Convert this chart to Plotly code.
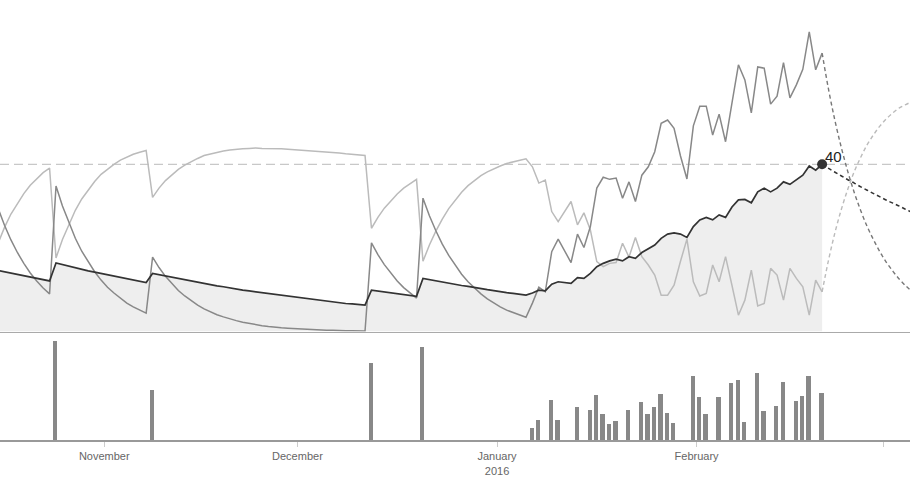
import pandas as pd
import plotly.graph_objects as go

# ---------------- data ----------------
start_date = "2015-10-15"

fitness = [14.6, 14.3, 14.0, 13.6, 13.3, 13.0, 12.7, 12.4, 12.1, 16.4,
           16.0, 15.6, 15.3, 14.9, 14.5, 14.2, 13.9, 13.5, 13.2, 12.9,
           12.6, 12.3, 12.0, 11.7, 13.9, 13.6, 13.3, 12.9, 12.6, 12.3,
           12.0, 11.7, 11.5, 11.2, 10.9, 10.7, 10.4, 10.2, 9.9, 9.7,
           9.5, 9.2, 9.0, 8.8, 8.6, 8.4, 8.2, 8.0, 7.8, 7.6,
           7.4, 7.2, 7.1, 6.9, 6.7, 6.6, 6.4, 6.3, 9.9, 9.7,
           9.5, 9.2, 9.0, 8.8, 8.6, 8.4, 12.7, 12.4, 12.1, 11.8,
           11.6, 11.3, 11.0, 10.8, 10.5, 10.3, 10.0, 9.8, 9.5, 9.3,
           9.1, 8.9, 8.7, 9.2, 9.9, 9.7, 11.3, 11.9, 11.7, 11.5,
           12.9, 12.7, 13.9, 15.5, 16.3, 16.9, 17.3, 16.9, 17.9, 17.5,
           18.9, 19.7, 20.7, 22.3, 23.3, 23.6, 23.3, 22.5, 25.1, 26.7,
           27.3, 26.7, 27.9, 27.3, 29.8, 31.5, 31.6, 30.8, 33.4, 34.3,
           33.4, 34.3, 35.8, 35.2, 36.2, 37.4, 39.6, 38.6, 40.0]

fatigue = [29.5, 25.4, 21.9, 18.9, 16.3, 14.0, 12.1, 10.4, 9.0, 34.8,
           30.0, 25.9, 22.3, 19.2, 16.6, 14.3, 12.3, 10.6, 9.2, 7.9,
           6.8, 5.9, 5.1, 4.4, 17.8, 15.3, 13.2, 11.4, 9.8, 8.5,
           7.3, 6.3, 5.4, 4.7, 4.0, 3.5, 3.0, 2.6, 2.2, 1.9,
           1.6, 1.4, 1.2, 1.0, 0.9, 0.8, 0.7, 0.6, 0.5, 0.4,
           0.4, 0.3, 0.3, 0.2, 0.2, 0.2, 0.2, 0.1, 21.2, 18.4,
           16.0, 13.9, 12.1, 10.5, 9.2, 8.0, 31.9, 27.7, 24.1, 20.9,
           18.2, 15.8, 13.7, 11.9, 10.4, 9.0, 7.8, 6.8, 5.9, 5.1,
           4.5, 3.9, 3.4, 6.8, 10.6, 9.5, 19.1, 22.1, 19.2, 16.5,
           23.3, 20.1, 25.1, 34.3, 36.9, 36.4, 36.7, 31.9, 35.8, 31.1,
           37.4, 39.4, 43.0, 49.8, 50.6, 48.6, 42.0, 36.5, 49.2, 53.9,
           53.9, 47.0, 52.0, 45.4, 54.7, 63.8, 60.2, 52.3, 63.3, 63.0,
           54.4, 56.3, 64.3, 55.9, 59.0, 62.7, 71.7, 62.6, 66.6]

form = [21.1, 24.9, 28.1, 30.7, 33.0, 35.0, 36.6, 38.0, 39.1, 17.6,
        22.0, 25.7, 29.0, 31.7, 33.9, 35.9, 37.6, 38.9, 40.0, 41.0,
        41.8, 42.4, 42.9, 43.3, 32.1, 34.3, 36.1, 37.5, 38.8, 39.8,
        40.7, 41.4, 42.1, 42.5, 42.9, 43.2, 43.4, 43.6, 43.7, 43.8,
        43.9, 43.8, 43.8, 43.7, 43.7, 43.6, 43.5, 43.4, 43.3, 43.2,
        43.0, 42.9, 42.8, 42.7, 42.5, 42.4, 42.3, 42.1, 24.7, 27.3,
        29.5, 31.3, 32.9, 34.3, 35.4, 36.4, 16.8, 20.7, 24.0, 26.9,
        29.4, 31.5, 33.3, 34.9, 36.1, 37.3, 38.2, 39.0, 39.6, 40.2,
        40.6, 41.0, 41.3, 39.4, 35.5, 36.2, 28.7, 26.3, 28.8, 31.1,
        25.5, 28.4, 24.3, 16.7, 15.5, 16.3, 16.5, 21.1, 17.8, 22.5,
        17.9, 15.9, 13.5, 8.7, 8.7, 11.1, 16.8, 22.1, 11.9, 8.5,
        9.1, 15.9, 11.9, 17.9, 11.0, 3.9, 7.5, 14.7, 6.1, 6.7,
        15.1, 13.5, 7.5, 15.1, 12.7, 10.7, 3.9, 12.3, 9.5]

proj_start = "2016-02-20"
fitness_proj = [40.0, 39.0, 38.1, 37.2, 36.3, 35.5, 34.6, 33.8, 33.0, 32.2, 31.4, 30.7, 30.0, 29.2, 28.5]
fatigue_proj = [66.6, 57.9, 50.4, 43.9, 38.2, 33.2, 28.9, 25.1, 21.9, 19.0, 16.5, 14.4, 12.5, 10.9, 9.5]
form_proj = [9.5, 17.1, 23.7, 29.3, 34.1, 38.3, 41.7, 44.7, 47.1, 49.2, 50.9, 52.3, 53.5, 54.3, 55.0]

workout_dates = ["2015-10-24", "2015-11-08", "2015-12-12", "2015-12-20",
                 "2016-01-06", "2016-01-07", "2016-01-09", "2016-01-10", "2016-01-13",
                 "2016-01-15", "2016-01-16", "2016-01-17", "2016-01-18", "2016-01-19",
                 "2016-01-21", "2016-01-23", "2016-01-24", "2016-01-25", "2016-01-26",
                 "2016-01-27", "2016-01-28", "2016-01-31", "2016-02-01", "2016-02-02",
                 "2016-02-04", "2016-02-06", "2016-02-07", "2016-02-08", "2016-02-10",
                 "2016-02-11", "2016-02-13", "2016-02-14", "2016-02-16", "2016-02-17",
                 "2016-02-18", "2016-02-20"]
workout_load = [199, 101, 155, 187,
                25, 41, 81, 41, 67,
                61, 91, 53, 33, 39,
                61, 77, 53, 67, 93,
                55, 35, 129, 87, 53,
                87, 115, 121, 37, 135,
                59, 69, 117, 79, 89,
                129, 95]

tick_dates = ["2015-11-01", "2015-12-01", "2016-01-01", "2016-02-01", "2016-03-01"]
tick_labels = ["November", "December", "January<br>2016", "February", ""]
target_level = 40
current_label = "40"

x_range = ["2015-10-15 19:12", "2016-03-05 03:36"]

# ---------------- build ----------------
DAY_MS = 86400000
days = pd.date_range(start_date, periods=len(fitness), freq="D") + pd.Timedelta(hours=12)
proj_days = pd.date_range(proj_start, periods=len(fitness_proj), freq="D") + pd.Timedelta(hours=12)

DARK = "#333333"
MID = "#888888"
LIGHT = "#bbbbbb"

fig = go.Figure()

# bars (bottom panel)
fig.add_trace(go.Bar(
    x=pd.to_datetime(workout_dates), y=workout_load, xaxis="x", yaxis="y",
    marker=dict(color="#888888", line=dict(width=0)),
    width=DAY_MS * 0.66, offset=DAY_MS * 0.06, hoverinfo="skip"))

# fitness area fill
fig.add_trace(go.Scatter(
    x=days, y=fitness, xaxis="x2", yaxis="y2", mode="lines",
    line=dict(width=0, color="#eeeeee"), fill="tozeroy", fillcolor="#eeeeee",
    hoverinfo="skip"))

# projections
fig.add_trace(go.Scatter(x=proj_days, y=form_proj, xaxis="x2", yaxis="y2", mode="lines",
                         line=dict(color=LIGHT, width=1.4, dash="4px,3px", shape="spline")))
fig.add_trace(go.Scatter(x=proj_days, y=fatigue_proj, xaxis="x2", yaxis="y2", mode="lines",
                         line=dict(color="#777777", width=1.4, dash="4px,3px", shape="spline")))
fig.add_trace(go.Scatter(x=proj_days, y=fitness_proj, xaxis="x2", yaxis="y2", mode="lines",
                         line=dict(color=DARK, width=1.5, dash="4px,3px", shape="spline")))

# main lines
fig.add_trace(go.Scatter(x=days, y=form, xaxis="x2", yaxis="y2", mode="lines",
                         line=dict(color=LIGHT, width=1.5)))
fig.add_trace(go.Scatter(x=days, y=fatigue, xaxis="x2", yaxis="y2", mode="lines",
                         line=dict(color=MID, width=1.5)))
fig.add_trace(go.Scatter(x=days, y=fitness, xaxis="x2", yaxis="y2", mode="lines",
                         line=dict(color=DARK, width=1.7)))

# current point
fig.add_trace(go.Scatter(x=[days[-1]], y=[fitness[-1]], xaxis="x2", yaxis="y2", mode="markers",
                         marker=dict(color=DARK, size=10)))

fig.add_annotation(x=days[-1], y=fitness[-1], xref="x2", yref="y2", text=current_label,
                   showarrow=False, xanchor="left", yanchor="bottom", xshift=1, yshift=-3,
                   font=dict(size=15, color="#222222"))

fig.add_shape(type="line", xref="paper", yref="y2", x0=0, x1=1,
              y0=target_level, y1=target_level, layer="below",
              line=dict(color="#bbbbbb", width=1, dash="9px,5px"))

top_bottom = (440 - 331.5) / 440
fig.update_layout(
    width=910, height=479, autosize=False,
    margin=dict(l=0, r=0, t=0, b=39, pad=0, autoexpand=False),
    paper_bgcolor="white", plot_bgcolor="white",
    showlegend=False,
    font=dict(family="Liberation Sans, Arial, sans-serif"),
    bargap=0,
    xaxis=dict(domain=[0, 1], anchor="y", type="date", range=x_range, automargin=False,
               tickmode="array", tickvals=tick_dates, ticktext=tick_labels,
               ticks="outside", ticklen=5, tickwidth=1, tickcolor="#cccccc",
               showline=True, linecolor="#999999", linewidth=2,
               showgrid=False, zeroline=False,
               tickfont=dict(size=11, color="#666666")),
    yaxis=dict(domain=[0, (440 - 340) / 440], range=[0, 200], visible=False, automargin=False),
    xaxis2=dict(domain=[0, 1], anchor="y2", type="date", matches="x", range=x_range,
                automargin=False,
                showline=True, linecolor="#aaaaaa", linewidth=1,
                showticklabels=False, ticks="", showgrid=False, zeroline=False),
    yaxis2=dict(domain=[top_bottom, 1], range=[0, 331.5 / 4.18], visible=False, automargin=False),
)

fig.write_html(
    "out.html",
    config={"displayModeBar": False},
    post_script="document.body.style.margin='0';document.body.style.overflow='hidden';",
)
